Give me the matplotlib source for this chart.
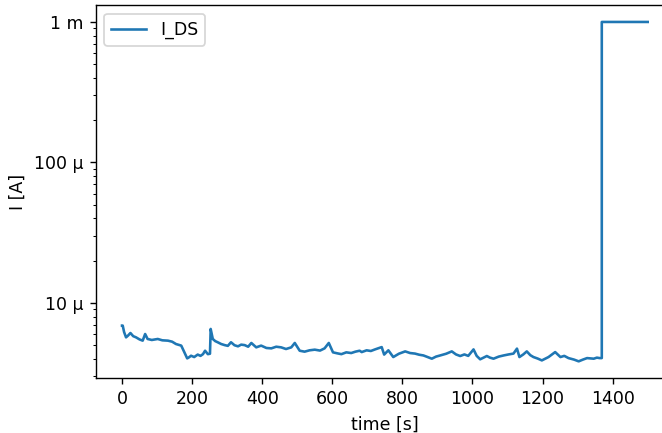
import matplotlib
matplotlib.use("Agg")
import matplotlib.pyplot as plt
from matplotlib.ticker import EngFormatter, NullFormatter

# time [s]
time_s = [0, 2, 6, 11.5, 17, 24, 32, 40, 50, 59, 66, 73, 85, 102, 115, 131, 143, 154, 169,
          178, 186, 191, 197, 206, 216, 224, 231, 237, 245, 251, 253, 259, 266, 273, 283, 293,
          302, 311, 321, 331, 340, 350, 360, 369, 383, 397, 412, 426, 440, 454, 468, 483, 493,
          507, 521, 535, 550, 565, 578, 590, 602, 614, 626, 640, 654, 666, 678, 684, 698, 710,
          722, 741, 748, 760, 774, 790, 808, 822, 836, 848, 860, 872, 884, 896, 908, 925, 941,
          953, 965, 977, 988, 1003, 1012, 1022, 1041, 1050, 1060, 1075, 1089, 1103, 1117, 1127,
          1134, 1145, 1155, 1165, 1174, 1186, 1198, 1217, 1236, 1251, 1262, 1274, 1290, 1303,
          1315, 1327, 1346, 1355, 1363, 1369, 1369, 1500]
# drain-source current [A]
i_ds = [6.9e-6, 6.9e-6, 6.2e-6, 5.69e-6, 5.85e-6, 6.11e-6, 5.8e-6, 5.69e-6, 5.5e-6, 5.39e-6,
        6.01e-6, 5.54e-6, 5.45e-6, 5.54e-6, 5.42e-6, 5.39e-6, 5.3e-6, 5.1e-6, 4.97e-6,
        4.45e-6, 4.03e-6, 4.1e-6, 4.21e-6, 4.12e-6, 4.29e-6, 4.2e-6, 4.32e-6, 4.57e-6, 4.32e-6,
        4.35e-6, 6.53e-6, 5.54e-6, 5.35e-6, 5.25e-6, 5.1e-6, 5.01e-6, 4.95e-6, 5.25e-6, 5.0e-6,
        4.91e-6, 5.05e-6, 5.01e-6, 4.88e-6, 5.19e-6, 4.83e-6, 4.97e-6, 4.78e-6, 4.75e-6, 4.88e-6,
        4.83e-6, 4.7e-6, 4.83e-6, 5.19e-6, 4.57e-6, 4.5e-6, 4.6e-6, 4.65e-6, 4.58e-6, 4.75e-6,
        5.19e-6, 4.45e-6, 4.38e-6, 4.32e-6, 4.45e-6, 4.4e-6, 4.5e-6, 4.57e-6, 4.47e-6, 4.6e-6,
        4.55e-6, 4.67e-6, 4.85e-6, 4.29e-6, 4.6e-6, 4.12e-6, 4.35e-6, 4.52e-6, 4.4e-6, 4.36e-6,
        4.28e-6, 4.23e-6, 4.12e-6, 4.01e-6, 4.15e-6, 4.23e-6, 4.35e-6, 4.52e-6, 4.3e-6, 4.19e-6,
        4.3e-6, 4.2e-6, 4.67e-6, 4.2e-6, 3.97e-6, 4.19e-6, 4.08e-6, 4.01e-6, 4.15e-6, 4.23e-6,
        4.3e-6, 4.36e-6, 4.73e-6, 4.12e-6, 4.3e-6, 4.52e-6, 4.25e-6, 4.12e-6, 4.02e-6, 3.9e-6,
        4.12e-6, 4.47e-6, 4.12e-6, 4.2e-6, 4.05e-6, 3.95e-6, 3.84e-6, 3.95e-6, 4.05e-6, 4.01e-6,
        4.08e-6, 4.05e-6, 4.05e-6, 1.0e-3, 1.0e-3]

DPI = 125
fig = plt.figure(figsize=(662 / DPI, 433 / DPI), dpi=DPI)
ax = fig.add_axes([0.1446, 0.1263, 0.8735, 0.8622])
ax.plot(time_s, i_ds, label="I_DS", color="#1f77b4", linewidth=1.5)
ax.set_yscale("log")
ax.yaxis.set_major_formatter(EngFormatter())
ax.yaxis.set_minor_formatter(NullFormatter())
ax.set_xlabel("time [s]")
ax.set_ylabel("I [A]")
ax.set_xticks([0, 200, 400, 600, 800, 1000, 1200, 1400])
ax.legend(loc="upper left")
fig.savefig("out.png", dpi=DPI)
